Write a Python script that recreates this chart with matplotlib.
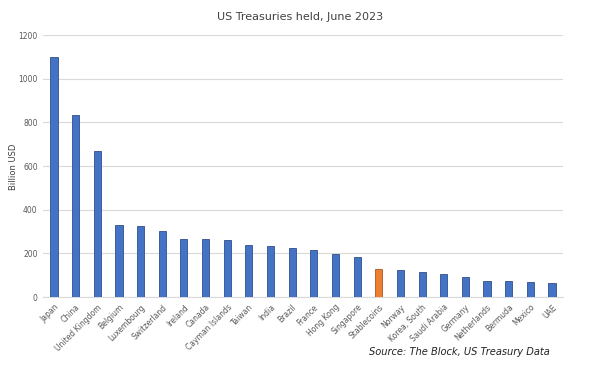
import matplotlib.pyplot as plt

countries = ["Japan", "China", "United Kingdom", "Belgium", "Luxembourg", "Switzerland",
             "Ireland", "Canada", "Cayman Islands", "Taiwan", "India", "Brazil", "France",
             "Hong Kong", "Singapore", "Stablecoins", "Norway", "Korea, South", "Saudi Arabia",
             "Germany", "Netherlands", "Bermuda", "Mexico", "UAE"]
holdings = [1100, 833, 668, 330, 327, 302, 267, 267, 261, 237, 232, 223, 215,
            196, 183, 128, 124, 113, 105, 90, 72, 72, 69, 63]

colors = ['#ED7D31' if c == "Stablecoins" else '#4472C4' for c in countries]
edges = ['#A65A1E' if c == "Stablecoins" else '#2F4F8A' for c in countries]

fig = plt.figure(figsize=(6, 3.78), dpi=100)
ax = fig.add_axes([0.072, 0.214, 0.866, 0.693])

ax.bar(range(len(countries)), holdings, width=0.33, color=colors, edgecolor=edges, linewidth=0.6, zorder=3)

ax.set_xlim(-0.5, len(countries) - 0.5)
ax.set_ylim(0, 1200)
ax.set_yticks(range(0, 1201, 200))
ax.grid(axis='y', color='#D9D9D9', linewidth=0.8, zorder=0)
for s in ['top', 'right', 'left']:
    ax.spines[s].set_visible(False)
ax.spines['bottom'].set_color('#D9D9D9')
ax.tick_params(length=0, labelsize=5.5, colors='#595959', pad=4)
ax.set_xticks(range(len(countries)))
ax.set_xticklabels(countries, rotation=45, ha='right', rotation_mode='anchor')

# y label placed by hand, like the reference
fig.text(0.022, 0.56, 'Billion USD', rotation=90, ha='center', va='center', fontsize=6, color='#404040')

fig.text(0.5, 0.955, 'US Treasuries held, June 2023', ha='center', va='center', fontsize=8, color='#404040')
fig.text(0.615, 0.068, 'Source: The Block, US Treasury Data', fontsize=7.1, style='italic', color='#222222', va='center')

fig.savefig('out.png', dpi=100)
